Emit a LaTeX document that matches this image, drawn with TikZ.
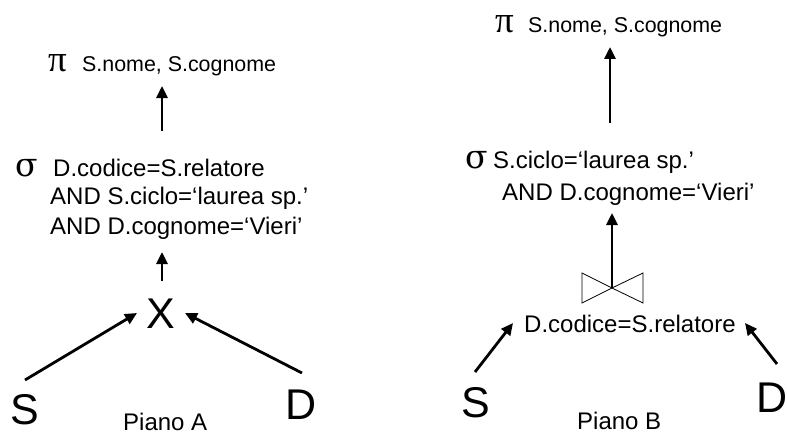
\documentclass[tikz,border=0pt]{standalone}
\usepackage{fontspec}
\setmainfont{Liberation Sans}
\newfontfamily\pifont{Liberation Serif}
\newfontfamily\sigfont{DejaVu Serif}
\usetikzlibrary{arrows.meta}
\begin{document}
\begin{tikzpicture}[x=1pt,y=-1pt,
  txt/.style={anchor=base west,inner sep=0pt,font=\fontsize{24}{28}\selectfont},
  smalltxt/.style={anchor=base west,inner sep=0pt,font=\fontsize{21.4}{26}\selectfont},
  bigtxt/.style={anchor=base west,inner sep=0pt,font=\fontsize{43}{50}\selectfont},
  pisym/.style={anchor=base west,inner sep=0pt,font=\pifont\fontsize{37}{40}\selectfont},
  sigsym/.style={anchor=base west,inner sep=0pt,font=\sigfont\fontsize{33}{36}\selectfont},
  arr/.style={line width=2.8pt,-{Triangle[length=12pt,width=11pt]}},
  tie/.style={line width=0.8pt,line join=miter}]
\useasboundingbox (0,0) rectangle (787,436);
% ---------- Piano A ----------
\node[pisym] (piA) at (48,72) {π};
\node[smalltxt] (projA) at (82,72) {S.nome, S.cognome};
\node[sigsym] (sigA) at (15,176) {σ};
\node[txt] (selA1) at (53,176) {D.codice=S.relatore};
\node[txt] (selA2) at (50,204) {AND S.ciclo=‘laurea sp.’};
\node[txt] (selA3) at (50,234) {AND D.cognome=‘Vieri’};
\node[bigtxt,anchor=base] (xA) at (161,328) {X};
\node[bigtxt] (sA) at (10,424) {S};
\node[bigtxt] (dA) at (285,419) {D};
\node[txt] (pianoA) at (123,430) {Piano A};
\coordinate (a1s) at (162,131); \coordinate (a1e) at (162,86);
\coordinate (a2s) at (162,281); \coordinate (a2e) at (162,252);
\coordinate (a3s) at (25,380);  \coordinate (a3e) at (137,313);
\coordinate (a4s) at (302,373); \coordinate (a4e) at (185,313);
\draw[arr] (a1s) -- (a1e);
\draw[arr] (a2s) -- (a2e);
\draw[arr] (a3s) -- (a3e);
\draw[arr] (a4s) -- (a4e);
% ---------- Piano B ----------
\node[pisym] (piB) at (495,33) {π};
\node[smalltxt] (projB) at (528,33) {S.nome, S.cognome};
\node[sigsym] (sigB) at (465,168) {σ};
\node[txt] (selB1) at (493,168) {S.ciclo=‘laurea sp.’};
\node[txt] (selB2) at (502,200) {AND D.cognome=‘Vieri’};
\coordinate (tie) at (612,288);
\draw[tie] (tie) -- (582,273) -- (582,303) -- cycle;
\draw[tie] (tie) -- (643,273) -- (643,303) -- cycle;
\node[txt] (joinB) at (524,332) {D.codice=S.relatore};
\node[bigtxt] (sB) at (461,417) {S};
\node[bigtxt] (dB) at (756,412) {D};
\node[txt] (pianoB) at (577,429) {Piano B};
\coordinate (b1s) at (610,123); \coordinate (b1e) at (610,47);
\coordinate (b2e) at (612,213);
\coordinate (b3s) at (475,372); \coordinate (b3e) at (513,323);
\coordinate (b4s) at (777,364); \coordinate (b4e) at (745,323);
\draw[arr] (b1s) -- (b1e);
\draw[arr] (tie) -- (b2e);
\draw[arr] (b3s) -- (b3e);
\draw[arr] (b4s) -- (b4e);
\end{tikzpicture}
\end{document}
